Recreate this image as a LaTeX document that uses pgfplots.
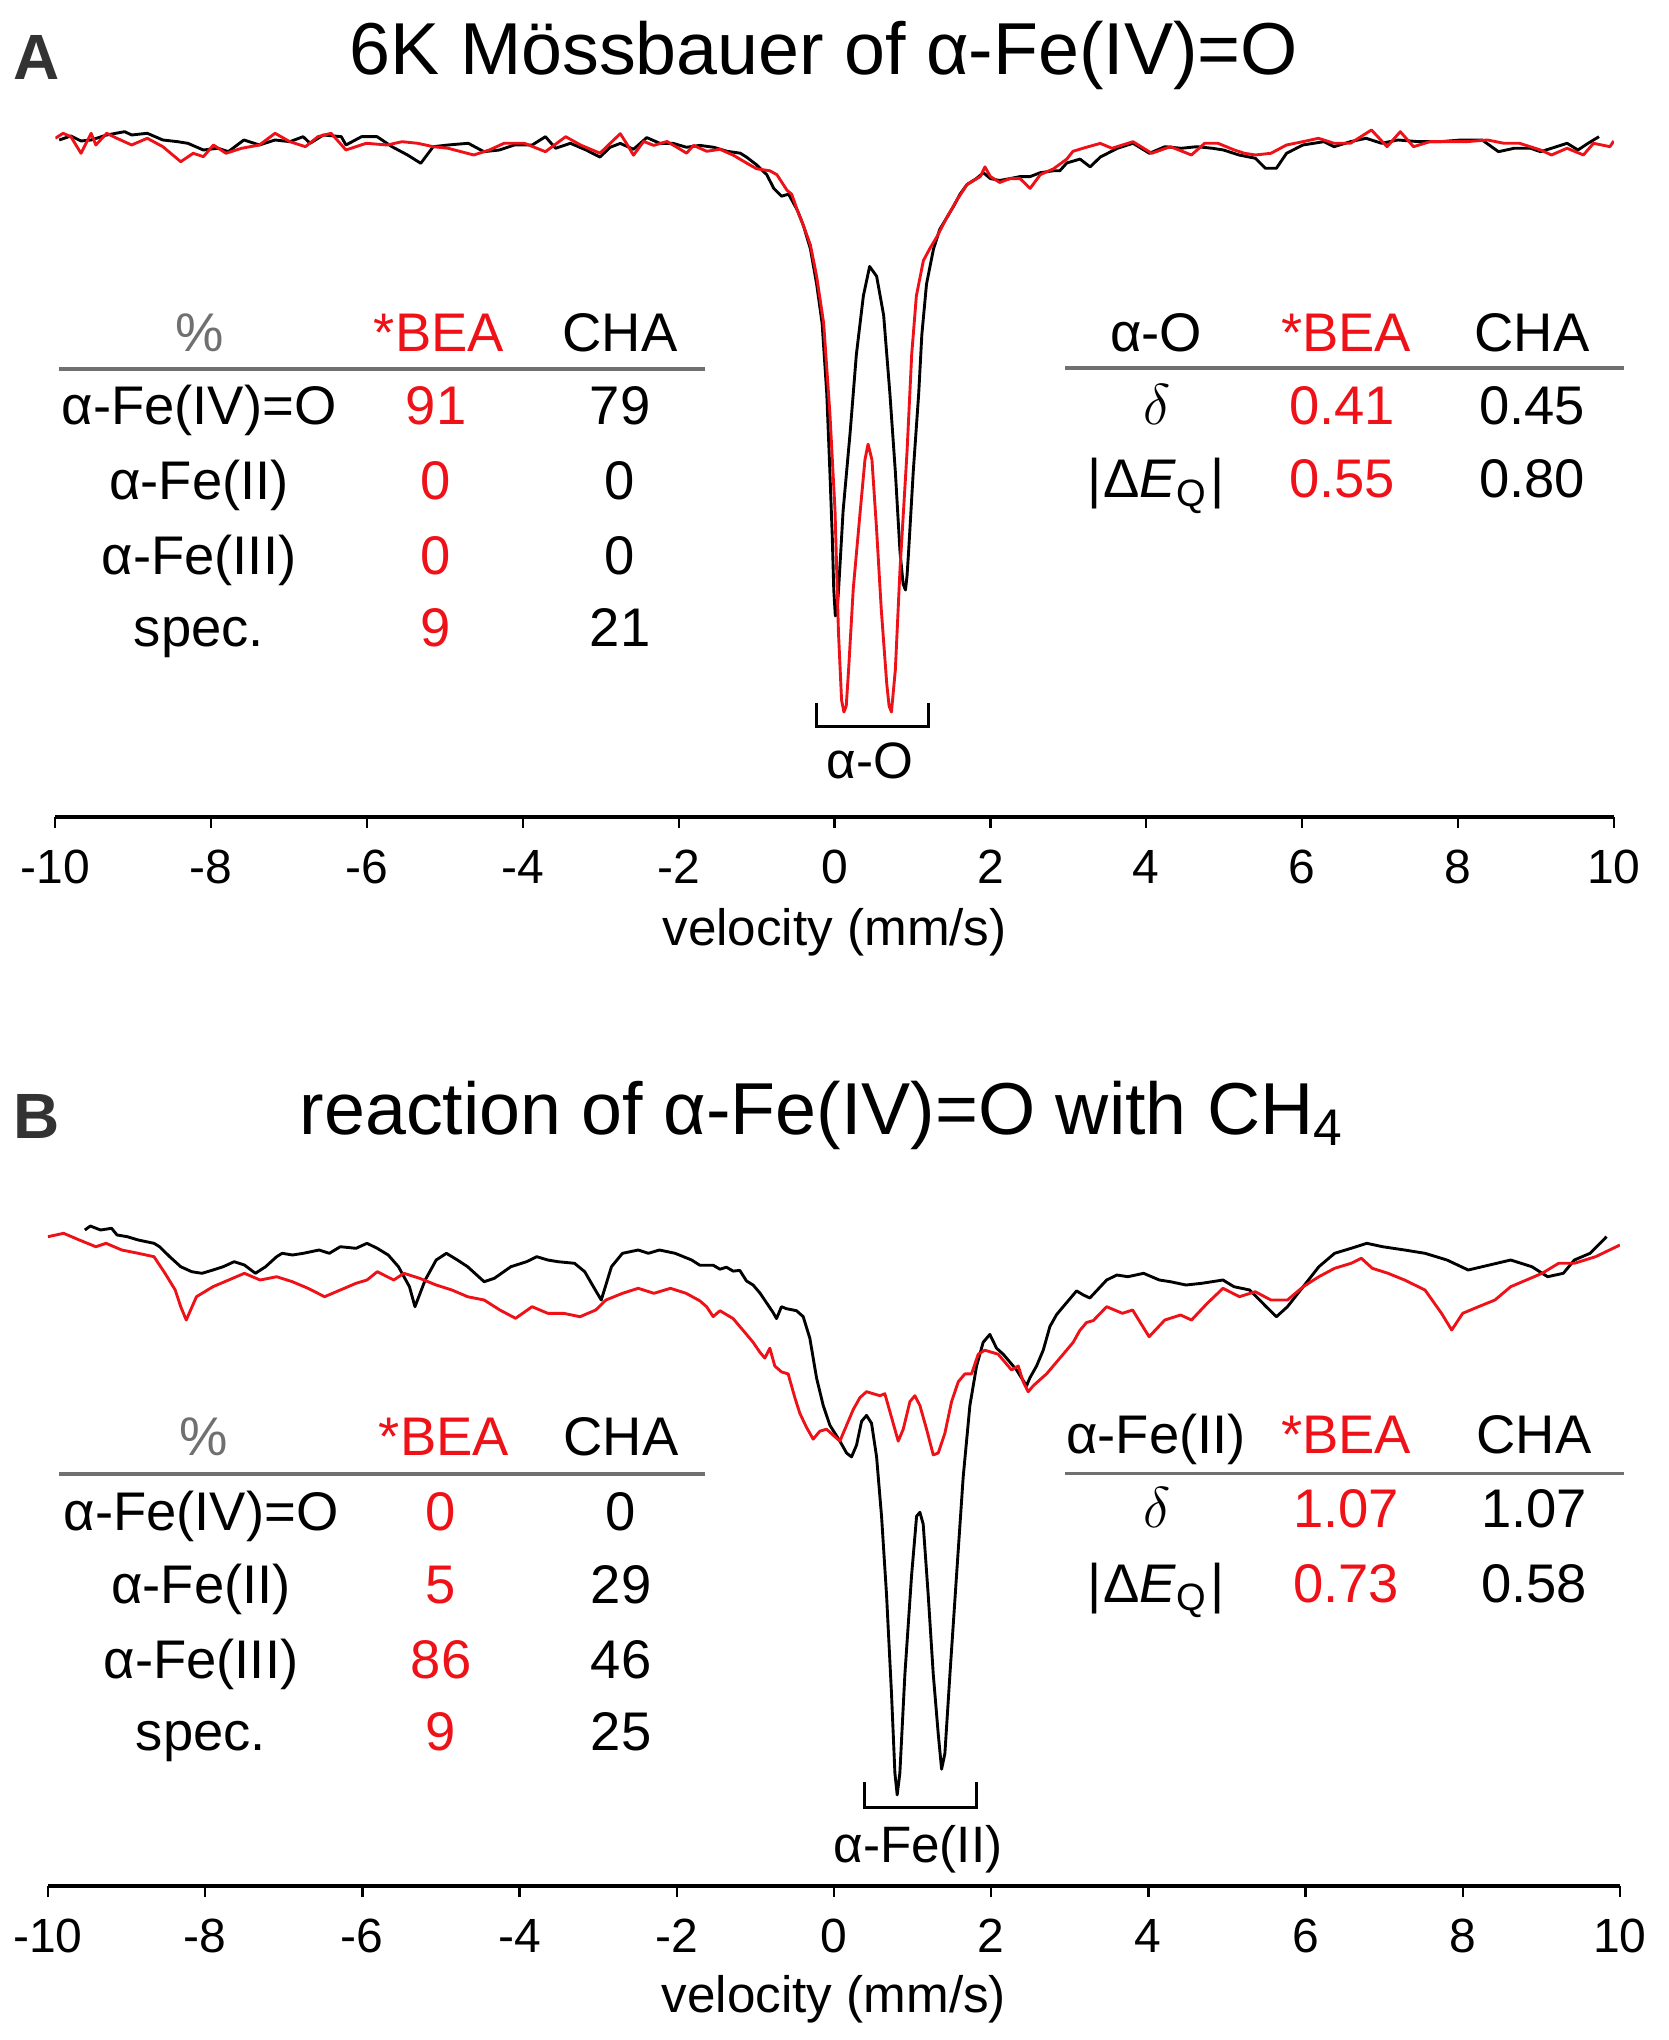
\documentclass[border=0pt]{standalone}
\usepackage{pgfplots}
\pgfplotsset{compat=1.18}
\usepackage{fontspec}
\setmainfont{Liberation Sans}

\definecolor{specred}{RGB}{238,18,24}
\definecolor{rulegray}{RGB}{112,112,112}
\newcommand\tabfont{\fontsize{13.6pt}{16pt}\selectfont}
\newcommand\titlefont{\fontsize{18.4pt}{22pt}\selectfont}
\newcommand\tickfont{\fontsize{12pt}{14pt}\selectfont}
\newcommand\labfont{\fontsize{12.8pt}{15pt}\selectfont}
\newcommand\dEQ{|\kern0.5ptΔ\textit{E}\textsubscript{Q}\kern0.5pt|}

% y values are spectrum heights in (negative) pixel rows of the figure
\pgfplotsset{moss/.style={
  xmin=-10, xmax=10,
  axis x line=bottom, axis y line=none,
  x axis line style={-, line width=1pt},
  xtick={-10,-8,...,10},
  xticklabels={-10,-8,-6,-4,-2,0,2,4,6,8,10},
  tick align=outside, major tick length=2.75pt,
  every tick/.style={black, line width=0.6pt},
  xticklabel style={font=\tickfont, anchor=base, yshift=-13.75pt},
  xlabel={velocity (mm/s)},
  xlabel style={font=\labfont, at={(axis description cs:0.5,0)}, anchor=base},
  every axis plot/.append style={line width=0.72pt, line join=round},
}}

\begin{document}
\begin{tikzpicture}
\path[use as bounding box] (0,0) rectangle (417pt,-510pt);

% ---------- panel A ----------
\begin{axis}[moss, at={(13.825pt,-204.25pt)}, anchor=south west,
  x=19.481pt, y=0.25pt, ymin=-817, ymax=-110,
  xlabel style={yshift=-32pt}]
\addplot[black] coordinates {
(-9.95,-140) (-9.8,-136) (-9.67,-141) (-9.54,-140) (-9.34,-135) (-9.11,-131.7) (-9.02,-135)
(-8.82,-133.3) (-8.62,-140) (-8.43,-141.7) (-8.30,-143.3) (-8.10,-150) (-7.91,-148.3) (-7.78,-151.7)
(-7.58,-140) (-7.38,-145) (-7.18,-140) (-6.99,-141.7) (-6.82,-136.7) (-6.73,-143.3) (-6.56,-135)
(-6.33,-136.7) (-6.27,-145) (-6.07,-136.7) (-5.87,-136.7) (-5.68,-146.7) (-5.48,-155) (-5.31,-163.3)
(-5.15,-146.7) (-4.96,-145) (-4.70,-143.3) (-4.50,-151.7) (-4.30,-150) (-4.11,-145) (-3.88,-145)
(-3.71,-136.7) (-3.58,-148.3) (-3.39,-143.3) (-3.19,-150) (-3.01,-157.1) (-2.88,-147.3) (-2.75,-143.4)
(-2.58,-149.3) (-2.41,-137.6) (-2.24,-143.4) (-2.07,-143.4) (-1.90,-147.3) (-1.73,-145.4) (-1.55,-147.3)
(-1.38,-151.3) (-1.21,-153.2) (-1.13,-157.1) (-1.00,-164.9) (-0.87,-174.7) (-0.78,-188.4) (-0.68,-196.2)
(-0.59,-194.2) (-0.48,-209.8) (-0.40,-225.5) (-0.31,-248.9) (-0.23,-284.1) (-0.16,-323.1) (-0.10,-393.4)
(-0.06,-471.6) (-0.03,-535) (-0.01,-590) (0.01,-616) (0.03,-612) (0.05,-592) (0.11,-510.6)
(0.20,-432.5) (0.28,-354.4) (0.37,-295.8) (0.45,-266.5) (0.54,-276.3) (0.63,-315.3) (0.71,-393.4)
(0.78,-471.6) (0.84,-552) (0.88,-584) (0.91,-590) (0.93,-576) (0.95,-552) (1.01,-471.6)
(1.08,-393.4) (1.12,-334.8) (1.18,-284.1) (1.27,-248.9) (1.35,-229.4) (1.44,-217.7) (1.53,-205.9)
(1.61,-194.2) (1.70,-184.5) (1.82,-178.6) (1.91,-172.7) (2.00,-178.6) (2.12,-180.5) (2.25,-178.6)
(2.38,-176.6) (2.51,-176.6) (2.64,-172.7) (2.81,-170.8) (2.89,-170.8) (2.98,-163) (3.15,-159.1)
(3.28,-166.9) (3.41,-157.1) (3.63,-148.3) (3.83,-143.3) (4.04,-153.3) (4.24,-146.7) (4.45,-148.3)
(4.65,-146.7) (4.85,-148.3) (4.99,-150) (5.19,-155) (5.40,-158.3) (5.53,-168.3) (5.67,-168.3)
(5.80,-153.3) (6.01,-145) (6.28,-141.7) (6.41,-146.7) (6.62,-141.7) (6.82,-138.3) (7.02,-143.3)
(7.23,-140) (7.50,-141.7) (7.77,-141.7) (8.04,-140) (8.31,-140) (8.52,-151.7) (8.72,-148.3)
(8.93,-148.3) (9.06,-151.7) (9.20,-148.3) (9.40,-143.3) (9.54,-150) (9.67,-143.3) (9.81,-136.7)
};
\addplot[specred] coordinates {
(-10,-138.3) (-9.90,-133.3) (-9.80,-136.7) (-9.67,-153.3) (-9.54,-133.3) (-9.48,-145) (-9.34,-133.3)
(-9.21,-138.3) (-9.02,-145) (-8.82,-138.3) (-8.62,-146.7) (-8.39,-161.7) (-8.23,-153.3) (-8.10,-156.7)
(-7.97,-145) (-7.81,-153.3) (-7.61,-148.3) (-7.38,-145) (-7.18,-133.3) (-6.99,-141.7) (-6.79,-146.7)
(-6.63,-136.7) (-6.46,-133.3) (-6.27,-150) (-6.01,-143.3) (-5.74,-145) (-5.55,-141.7) (-5.35,-143.3)
(-5.15,-146.7) (-4.96,-148.3) (-4.63,-155) (-4.43,-150) (-4.24,-143.3) (-3.98,-143.3) (-3.71,-151.7)
(-3.45,-136.7) (-3.26,-145) (-3.01,-153.2) (-2.88,-143.4) (-2.75,-133.7) (-2.67,-143.4) (-2.58,-155.2)
(-2.45,-141.5) (-2.32,-145.4) (-2.15,-141.5) (-1.98,-149.3) (-1.90,-153.2) (-1.81,-145.4) (-1.64,-151.3)
(-1.47,-149.3) (-1.30,-155.2) (-1.13,-163) (-1.00,-168.8) (-0.83,-170.8) (-0.74,-174.7) (-0.61,-190.3)
(-0.55,-194.2) (-0.48,-209.8) (-0.40,-225.5) (-0.31,-245) (-0.23,-276.3) (-0.14,-323.1) (-0.06,-413)
(0.006,-510.6) (0.05,-632) (0.09,-700) (0.12,-712) (0.15,-706) (0.18,-670) (0.24,-588.8)
(0.33,-510.6) (0.39,-459.8) (0.43,-444.2) (0.48,-459.8) (0.54,-530.2) (0.60,-610) (0.67,-684)
(0.70,-706) (0.73,-712) (0.78,-670) (0.84,-569.2) (0.93,-452) (0.99,-354.4) (1.05,-295.8)
(1.14,-260.6) (1.22,-248.9) (1.31,-237.2) (1.44,-217.7) (1.57,-200.1) (1.70,-184.5) (1.87,-176.6)
(1.93,-166.9) (2.00,-176.6) (2.12,-182.5) (2.25,-178.6) (2.38,-178.6) (2.51,-188.4) (2.64,-174.7)
(2.81,-168.8) (2.98,-159.1) (3.06,-151.3) (3.23,-147.3) (3.41,-143.4) (3.56,-148.3) (3.83,-141.7)
(4.07,-153.3) (4.31,-146.7) (4.58,-155) (4.75,-143.3) (4.92,-143.3) (5.13,-150) (5.26,-153.3)
(5.40,-155) (5.60,-153.3) (5.80,-145) (6.01,-141.7) (6.21,-138.3) (6.41,-143.3) (6.62,-143.3)
(6.89,-130) (7.09,-146.7) (7.26,-131.7) (7.43,-146.7) (7.64,-141.7) (7.84,-141.7) (8.11,-141.7)
(8.38,-140) (8.59,-143.3) (8.79,-143.3) (9.06,-150) (9.20,-155) (9.40,-148.3) (9.61,-155)
(9.74,-143.3) (9.95,-146.7) (10,-141)
};
\end{axis}

% ---------- panel B ----------
\begin{axis}[moss, at={(11.975pt,-471.5pt)}, anchor=south west,
  x=19.65pt, y=0.25pt, ymin=-1886, ymax=-1180,
  xlabel style={yshift=-31.5pt}]
\addplot[black] coordinates {
(-9.53,-1230) (-9.46,-1226) (-9.33,-1230) (-9.19,-1228.3) (-9.12,-1235) (-8.99,-1236.7) (-8.85,-1240)
(-8.65,-1243.3) (-8.58,-1246.7) (-8.45,-1256.7) (-8.31,-1266.7) (-8.17,-1271.7) (-8.04,-1273.3)
(-7.90,-1270) (-7.77,-1266.7) (-7.63,-1261.7) (-7.50,-1265) (-7.36,-1273.3) (-7.23,-1266.7)
(-7.09,-1256.7) (-7.02,-1253.3) (-6.89,-1255) (-6.75,-1253.3) (-6.55,-1250) (-6.42,-1253.3)
(-6.28,-1246.7) (-6.08,-1248.3) (-5.94,-1243.3) (-5.81,-1248.3) (-5.67,-1255) (-5.54,-1266.7)
(-5.40,-1286.7) (-5.33,-1306.7) (-5.20,-1280) (-5.06,-1260) (-4.93,-1253.3) (-4.79,-1260)
(-4.66,-1266.7) (-4.45,-1281.7) (-4.32,-1278.3) (-4.11,-1266.7) (-3.91,-1261.7) (-3.78,-1256.7)
(-3.64,-1260) (-3.51,-1261.7) (-3.30,-1263.3) (-3.17,-1271.7) (-3.06,-1286.7) (-2.96,-1300)
(-2.83,-1266.7) (-2.69,-1253.3) (-2.49,-1250) (-2.36,-1253.3) (-2.22,-1250) (-2.02,-1253.3)
(-1.81,-1260) (-1.706,-1265.2) (-1.536,-1265.2) (-1.45,-1269.2) (-1.367,-1267.2) (-1.282,-1271.1)
(-1.197,-1270.4) (-1.112,-1281) (-1.028,-1285) (-0.942,-1292.9) (-0.857,-1302.8) (-0.773,-1312.6)
(-0.730,-1318.6) (-0.667,-1306.7) (-0.603,-1308.7) (-0.476,-1310.7) (-0.391,-1316.6) (-0.306,-1338.3)
(-0.221,-1377.9) (-0.136,-1405.5) (-0.051,-1425.3) (0.076,-1441.1) (0.161,-1453) (0.224,-1456.9)
(0.288,-1445.1) (0.352,-1421.3) (0.415,-1415.4) (0.479,-1423.3) (0.543,-1456.9) (0.606,-1516.2)
(0.670,-1595.3) (0.733,-1694.1) (0.776,-1773.1) (0.805,-1794.9) (0.839,-1773.1) (0.903,-1674.3)
(0.988,-1575.5) (1.052,-1516.2) (1.094,-1512.3) (1.136,-1524.1) (1.200,-1595.3) (1.264,-1674.3)
(1.327,-1733.6) (1.370,-1769.2) (1.412,-1753.4) (1.476,-1674.3) (1.560,-1575.5) (1.645,-1476.7)
(1.730,-1405.5) (1.815,-1366) (1.899,-1342.3) (1.984,-1334.4) (2.069,-1348.2) (2.154,-1354.2)
(2.239,-1362.1) (2.324,-1370) (2.387,-1377.9) (2.451,-1385.8) (2.493,-1377.9) (2.578,-1366)
(2.663,-1350.2) (2.748,-1326.5) (2.833,-1314.6) (2.917,-1306.7) (3.002,-1298.8) (3.087,-1290.9)
(3.172,-1294.9) (3.256,-1298) (3.47,-1280) (3.60,-1275) (3.74,-1276.7) (3.94,-1273.3) (4.14,-1280)
(4.28,-1281.7) (4.48,-1285) (4.68,-1283.3) (4.95,-1280) (5.09,-1286.7) (5.29,-1290) (5.50,-1306.7)
(5.63,-1316.7) (5.77,-1306.7) (5.97,-1286.7) (6.17,-1266.7) (6.37,-1253.3) (6.58,-1248.3)
(6.78,-1243.3) (6.98,-1246.7) (7.26,-1250) (7.52,-1253.3) (7.80,-1260) (8.07,-1270) (8.34,-1265)
(8.61,-1260) (8.88,-1266.7) (9.08,-1276.7) (9.28,-1273.3) (9.42,-1260) (9.62,-1253.3) (9.83,-1236.7)
};
\addplot[specred] coordinates {
(-10,-1236.7) (-9.80,-1233.3) (-9.60,-1240) (-9.39,-1246.7) (-9.26,-1243.3) (-9.06,-1250) (-8.85,-1253.3)
(-8.65,-1256.7) (-8.51,-1273.3) (-8.38,-1290) (-8.31,-1306.7) (-8.24,-1320) (-8.11,-1296.7)
(-7.90,-1286.7) (-7.70,-1280) (-7.50,-1273.3) (-7.30,-1280) (-7.09,-1276.7) (-6.89,-1281.7)
(-6.69,-1288.3) (-6.48,-1296.7) (-6.28,-1290) (-6.08,-1283.3) (-5.94,-1280) (-5.81,-1271.7)
(-5.60,-1280) (-5.47,-1273.3) (-5.27,-1278.3) (-5.06,-1285) (-4.86,-1290) (-4.66,-1296.7)
(-4.45,-1300) (-4.25,-1310) (-4.05,-1318.3) (-3.84,-1306.7) (-3.64,-1313.3) (-3.44,-1313.3)
(-3.23,-1316.7) (-3.03,-1310) (-2.90,-1300) (-2.69,-1293.3) (-2.49,-1288.3) (-2.29,-1293.3)
(-2.08,-1288.3) (-1.88,-1293.3) (-1.706,-1300.8) (-1.62,-1306.7) (-1.536,-1316.6) (-1.45,-1310.7)
(-1.367,-1314.6) (-1.282,-1318.6) (-1.197,-1326.5) (-1.112,-1334.4) (-1.028,-1342.3) (-0.942,-1352.2)
(-0.879,-1358.1) (-0.815,-1348.2) (-0.752,-1366) (-0.667,-1371.9) (-0.582,-1373.9) (-0.497,-1397.6)
(-0.433,-1413.4) (-0.349,-1427.3) (-0.264,-1439.1) (-0.179,-1431.2) (-0.094,-1429.2) (-0.009,-1435.2)
(0.076,-1441.1) (0.161,-1425.3) (0.246,-1409.5) (0.331,-1397.6) (0.415,-1391.7) (0.500,-1393.7)
(0.585,-1395.7) (0.648,-1393.7) (0.733,-1417.4) (0.818,-1441.1) (0.882,-1429.2) (0.967,-1401.6)
(1.030,-1395.7) (1.094,-1405.5) (1.179,-1429.2) (1.264,-1454.9) (1.327,-1453) (1.412,-1433.2)
(1.497,-1401.6) (1.582,-1381.8) (1.666,-1373.9) (1.751,-1373.9) (1.836,-1354.2) (1.920,-1350.2)
(2.005,-1352.2) (2.090,-1354.2) (2.175,-1362.1) (2.260,-1370) (2.345,-1366) (2.408,-1381.8)
(2.472,-1391.7) (2.536,-1385.8) (2.620,-1379.8) (2.705,-1373.9) (2.790,-1366) (2.875,-1358.1)
(2.960,-1350.2) (3.044,-1342.3) (3.129,-1330.4) (3.214,-1322.5) (3.299,-1320.6) (3.47,-1306.7)
(3.67,-1313.3) (3.80,-1310) (4.01,-1336.7) (4.21,-1320) (4.41,-1315) (4.55,-1320) (4.75,-1303.3)
(4.95,-1288.3) (5.16,-1296.7) (5.36,-1291.7) (5.56,-1300) (5.77,-1300) (5.97,-1286.7) (6.17,-1276.7)
(6.37,-1268.3) (6.58,-1263.3) (6.71,-1258.3) (6.85,-1268.3) (7.05,-1273.3) (7.26,-1280) (7.52,-1290)
(7.73,-1313.3) (7.86,-1330) (8.00,-1313.3) (8.20,-1306.7) (8.41,-1300) (8.61,-1286.7) (8.81,-1280)
(9.01,-1273.3) (9.22,-1263.3) (9.42,-1263.3) (9.69,-1256.7) (10,-1245)
};
\end{axis}

% ---------- annotations, in pixel rows of the figure ----------
\begin{scope}[x=0.25pt, y=-0.25pt, every node/.style={inner sep=0pt, anchor=base}]
% panel letters and titles
\node[font=\fontsize{16pt}{18pt}\selectfont\bfseries, text=black!80] at (37,80) {A};
\node[font=\titlefont] at (824,75) {6K Mössbauer of α-Fe(IV)=O};
\node[font=\fontsize{16pt}{18pt}\selectfont\bfseries, text=black!80] at (37,1138) {B};
\node[font=\titlefont] at (822,1134) {reaction of α-Fe(IV)=O with CH\textsubscript{4}};

% A: left table
\begin{scope}[every node/.append style={font=\tabfont}]
\node[text=rulegray] at (200,352) {\%};
\node[text=specred] at (439,352) {*BEA};
\node at (620,352) {CHA};
\draw[rulegray, line width=0.8pt] (58.5,369) -- (705,369);
\node at (199,425) {α-Fe(IV)=O}; \node[text=specred] at (436,425) {91}; \node at (620,425) {79};
\node at (199,500) {α-Fe(II)};   \node[text=specred] at (436,500) {0};  \node at (620,500) {0};
\node at (199,575) {α-Fe(III)};  \node[text=specred] at (436,575) {0};  \node at (620,575) {0};
\node at (199,647) {spec.};      \node[text=specred] at (436,647) {9};  \node at (620,647) {21};
% A: right table
\node at (1156,352) {α-O};
\node[text=specred] at (1346,352) {*BEA};
\node at (1532,352) {CHA};
\draw[rulegray, line width=0.8pt] (1065,368) -- (1624,368);
\node at (1157,425) {$\delta$}; \node[text=specred] at (1342,425) {0.41}; \node at (1532,425) {0.45};
\node at (1156,498) {\dEQ};     \node[text=specred] at (1342,498) {0.55}; \node at (1532,498) {0.80};

% B: left table
\node[text=rulegray] at (204,1455) {\%};
\node[text=specred] at (444,1455) {*BEA};
\node at (621,1455) {CHA};
\draw[rulegray, line width=0.8pt] (58.5,1474) -- (705,1474);
\node at (201,1530) {α-Fe(IV)=O}; \node[text=specred] at (441,1530) {0};  \node at (621,1530) {0};
\node at (201,1603) {α-Fe(II)};   \node[text=specred] at (441,1603) {5};  \node at (621,1603) {29};
\node at (201,1678) {α-Fe(III)};  \node[text=specred] at (441,1678) {86}; \node at (621,1678) {46};
\node at (201,1750) {spec.};      \node[text=specred] at (441,1750) {9};  \node at (621,1750) {25};
% B: right table
\node at (1156,1453) {α-Fe(II)};
\node[text=specred] at (1346,1453) {*BEA};
\node at (1534,1453) {CHA};
\draw[rulegray, line width=0.8pt] (1065,1473.5) -- (1624,1473.5);
\node at (1157,1527) {$\delta$}; \node[text=specred] at (1346,1527) {1.07}; \node at (1534,1527) {1.07};
\node at (1156,1602) {\dEQ};     \node[text=specred] at (1346,1602) {0.73}; \node at (1534,1602) {0.58};
\end{scope}

% doublet brackets
\draw[line width=0.75pt] (816,703) -- (816,727) -- (928,727) -- (928,703);
\node[font=\labfont] at (870,779) {α-O};
\draw[line width=0.75pt] (864,1782) -- (864,1807) -- (976,1807) -- (976,1782);
\node[font=\labfont] at (918,1862) {α-Fe(II)};
\end{scope}
\end{tikzpicture}
\end{document}
